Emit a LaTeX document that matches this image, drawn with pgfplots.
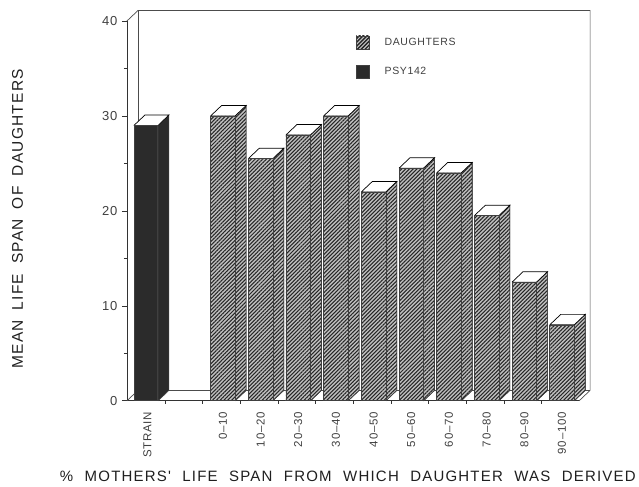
\documentclass[border=0pt]{standalone}
\usepackage{pgfplots}
\pgfplotsset{compat=1.18}
\usepackage{fontspec}
\setmainfont{Liberation Sans}
\newfontfamily\spaced[LetterSpace=6]{Liberation Sans}
\newfontfamily\spacedb[LetterSpace=8]{Liberation Sans}
\usetikzlibrary{patterns.meta}
\definecolor{ink}{gray}{0.25}
\definecolor{labelink}{gray}{0.12}
\definecolor{darkbar}{gray}{0.17}
\tikzset{hatch/.style={fill=gray!50,postaction={pattern={Lines[angle=45,distance=2.7pt,line width=1.05pt]},pattern color=black!85}}}
\newcommand{\sides}[6][hatch]{%
 \addplot[forget plot,draw=black!75,line width=0.6pt,#1] coordinates {(#3,0)(#4,1.1)(#4,#6)(#3,#5)(#3,0)};
 \addplot[forget plot,draw=black,line width=0.7pt,fill=white] coordinates {(#2,#5)(#3,#5)(#4,#6)(#2+0.292,#6)(#2,#5)};
}
\begin{document}
\begin{tikzpicture}[x=1pt,y=1pt]
\path (0,0) rectangle (639,487);
\begin{axis}[
 at={(127pt,86pt)},anchor=south west,
 x=37.7pt,y=9.5pt,
 xmin=-0.546,xmax=11.454,ymin=0,ymax=40,
 axis x line*=bottom,axis y line*=left,
 axis line style={-,line width=0.6pt,draw=black!80},
 clip=false,
 xtick={0,2,3,4,5,6,7,8,9,10,11},
 xticklabels={STRAIN,0\textendash10,10\textendash20,20\textendash30,30\textendash40,40\textendash50,50\textendash60,60\textendash70,70\textendash80,80\textendash90,90\textendash100},
 x tick label style={rotate=90,anchor=east,font=\fontsize{11.5}{12}\spaced,text=ink},
 xticklabel shift=3pt,
 major x tick style={draw=none},
 minor xtick={0.46,1.46,2.46,3.46,4.46,5.46,6.46,7.46,8.46,9.46,10.46},
 minor tick length=3pt,
 ytick={0,10,20,30,40},
 minor ytick={5,15,25,35},
 tick style={black!80,line width=0.6pt},
 major tick length=5pt,
 tick align=outside,
 y tick label style={font=\fontsize{13}{14}\spaced,text=ink,xshift=-1pt},
 /pgf/number format/assume math mode=true,
 xlabel={\%\hspace{11.5pt}MOTHERS'\hspace{11.5pt}LIFE\hspace{11.5pt}SPAN\hspace{11.5pt}FROM\hspace{11.5pt}WHICH\hspace{11.5pt}DAUGHTER\hspace{11.5pt}WAS\hspace{11.5pt}DERIVED},
 xlabel style={at={(axis cs:5.315,-8)},anchor=center,font=\fontsize{15}{16}\spacedb,text=labelink},
 ylabel={MEAN\hspace{10pt}LIFE\hspace{10pt}SPAN\hspace{10pt}OF\hspace{10pt}DAUGHTERS},
 ylabel style={at={(axis cs:-3.45,19.16)},rotate=0,anchor=center,font=\fontsize{15.5}{16}\spacedb,text=labelink},
 legend style={at={(axis cs:5.45,38.7)},anchor=north west,draw=none,fill=none,row sep=16pt,
   font=\fontsize{10.5}{11}\spaced,text=ink,
   /tikz/every odd column/.append style={column sep=13pt}},
 legend cell align=left,
]
\addplot[forget plot,draw=black!70,line width=0.7pt] coordinates {(-0.546,40)(-0.254,41.1)(11.746,41.1)(11.746,1.1)(11.454,0)};
\addplot[forget plot,draw=black!70,line width=0.7pt] coordinates {(-0.254,41.1)(-0.254,1.1)(11.746,1.1)};
\addplot[forget plot,draw=black!70,line width=0.7pt] coordinates {(-0.546,0)(-0.254,1.1)};
\sides[fill=darkbar]{-0.36}{0.28}{0.568}{29}{30.1}
\sides{1.675}{2.325}{2.617}{30}{31.1}
\sides{2.675}{3.325}{3.617}{25.5}{26.6}
\sides{3.675}{4.325}{4.617}{28}{29.1}
\sides{4.675}{5.325}{5.617}{30}{31.1}
\sides{5.675}{6.325}{6.617}{22}{23.1}
\sides{6.675}{7.325}{7.617}{24.5}{25.6}
\sides{7.675}{8.325}{8.617}{24}{25.1}
\sides{8.675}{9.325}{9.617}{19.5}{20.6}
\sides{9.675}{10.325}{10.617}{12.5}{13.6}
\sides{10.675}{11.325}{11.617}{8}{9.1}
\addplot[ybar,bar width=0.65,bar shift=0pt,draw=black!75,line width=0.6pt,hatch,
  legend image code/.code={\path[draw=black!75,line width=0.6pt,hatch] (0pt,-6.5pt) rectangle (13pt,6.5pt);}]
 coordinates {(2,30)(3,25.5)(4,28)(5,30)(6,22)(7,24.5)(8,24)(9,19.5)(10,12.5)(11,8)};
\addlegendentry{DAUGHTERS}
\addplot[ybar,bar width=0.62,bar shift=0pt,draw=black!75,line width=0.6pt,fill=darkbar,
  legend image code/.code={\path[draw=black!75,line width=0.6pt,fill=darkbar] (0pt,-6.5pt) rectangle (13pt,6.5pt);}]
 coordinates {(-0.05,29)};
\addlegendentry{PSY142}
\end{axis}
\end{tikzpicture}
\end{document}
